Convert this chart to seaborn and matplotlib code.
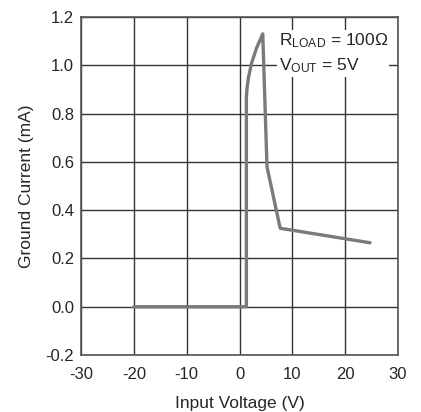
import numpy as np
import pandas as pd
import matplotlib
matplotlib.use("Agg")
import matplotlib.pyplot as plt
import seaborn as sns

# curve
vin = [-20, 1.3, 1.3, 1.45, 1.7, 2.3, 3.2, 4.4, 5.2, 7.7, 24.7]
ignd = [0.0, 0.0, 0.87, 0.91, 0.95, 1.01, 1.07, 1.13, 0.58, 0.325, 0.265]
xticks = [-30, -20, -10, 0, 10, 20, 30]
yticks = [-0.2, 0.0, 0.2, 0.4, 0.6, 0.8, 1.0, 1.2]

sns.set_style("white")
plt.rcParams['font.family'] = ['Liberation Sans', 'DejaVu Sans']
plt.rcParams['mathtext.default'] = 'regular'

df = pd.DataFrame({"Input Voltage (V)": vin, "Ground Current (mA)": ignd})

fig = plt.figure(figsize=(4.21, 4.12), dpi=100)
ax = fig.add_axes([0.1924, 0.1383, 0.753, 0.8204])

sns.lineplot(data=df, x="Input Voltage (V)", y="Ground Current (mA)", sort=False,
             estimator=None, color="#7a7a7a", linewidth=2.4, ax=ax, zorder=3)

ax.set_xlim(-30, 30)
ax.set_ylim(-0.2, 1.2)
ax.set_xticks(xticks)
ax.set_yticks(yticks)
ax.set_xticklabels([str(t) for t in xticks], fontsize=12)
ax.set_yticklabels([f"{t:.1f}" for t in yticks], fontsize=12)
ax.tick_params(axis="y", length=0, pad=5)
ax.tick_params(axis="x", length=0, pad=8.5)
ax.grid(True, color="#333333", linewidth=1.0)
ax.set_axisbelow(True)
for s in ax.spines.values():
    s.set_color("#555555")
    s.set_linewidth(1.2)
    s.set_zorder(6)

ax.set_xlabel("Input Voltage (V)", fontsize=12.5, labelpad=10)
ax.set_ylabel("Ground Current (mA)", fontsize=12.5, labelpad=8)

ax.text(7.4, 1.05, "R$_{LOAD}$ = 100Ω\nV$_{OUT}$ = 5V", fontsize=12.5,
        va="center", ha="left", linespacing=1.5, zorder=4,
        bbox=dict(facecolor="white", edgecolor="none", pad=1))

fig.savefig("out.png", dpi=100)
